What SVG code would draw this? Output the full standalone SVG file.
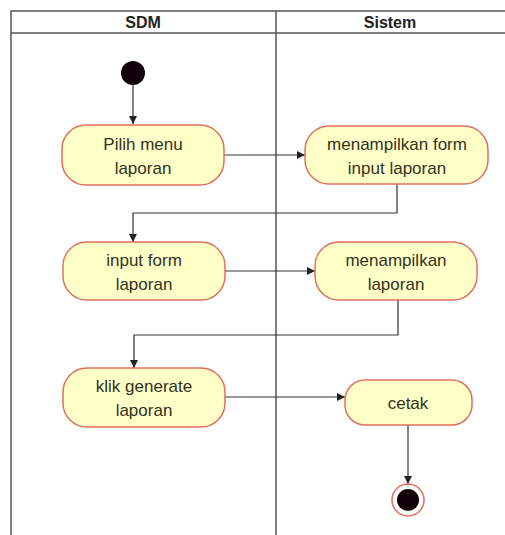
<svg xmlns="http://www.w3.org/2000/svg" width="505" height="535" viewBox="0 0 505 535">
<defs>
<style>
.lane{fill:none;stroke:#555;stroke-width:1.5}
.hdr{font-family:"Liberation Sans",Arial,sans-serif;font-size:16px;font-weight:bold;fill:#222;text-anchor:middle}
.act{fill:#ffffc8;stroke:#e07060;stroke-width:1.5}
.lbl{font-family:"Liberation Sans",Arial,sans-serif;font-size:17px;fill:#333320;text-anchor:middle}
.con{fill:none;stroke:#333;stroke-width:1.2}
</style>
<marker id="arr" viewBox="0 0 10 10" refX="10" refY="5" markerWidth="8" markerHeight="8" markerUnits="userSpaceOnUse" orient="auto">
<path d="M0,0 L10,5 L0,10 z" fill="#222"/>
</marker>
</defs>
<rect width="505" height="535" fill="#fff"/>
<g id="lanes">
<path class="lane" d="M11,535 V11 H505 M11,33 H505 M276,11 V535"/>
<text class="hdr" x="143" y="28">SDM</text>
<text class="hdr" x="390" y="28">Sistem</text>
</g>
<g id="connectors">
<path class="con" d="M133,85 V124" marker-end="url(#arr)"/>
<path class="con" d="M224,155 H305" marker-end="url(#arr)"/>
<path class="con" d="M397,184 V213 H133 V242" marker-end="url(#arr)"/>
<path class="con" d="M225,271 H315" marker-end="url(#arr)"/>
<path class="con" d="M398,300 V335 H134 V368" marker-end="url(#arr)"/>
<path class="con" d="M225,397 H345" marker-end="url(#arr)"/>
<path class="con" d="M408,425 V484" marker-end="url(#arr)"/>
</g>
<g id="start"><circle cx="133" cy="73" r="12" fill="#100008"/></g>
<g id="n1"><rect class="act" x="62" y="125" width="162" height="60" rx="24"/><text class="lbl" x="143" y="150">Pilih menu</text><text class="lbl" x="143" y="174">laporan</text></g>
<g id="n2"><rect class="act" x="305" y="126" width="183" height="58" rx="24"/><text class="lbl" x="397" y="150">menampilkan form</text><text class="lbl" x="397" y="174">input laporan</text></g>
<g id="n3"><rect class="act" x="63" y="242" width="162" height="58" rx="24"/><text class="lbl" x="144" y="266">input form</text><text class="lbl" x="144" y="290">laporan</text></g>
<g id="n4"><rect class="act" x="315" y="242" width="162" height="58" rx="24"/><text class="lbl" x="396" y="266">menampilkan</text><text class="lbl" x="396" y="290">laporan</text></g>
<g id="n5"><rect class="act" x="63" y="368" width="162" height="59" rx="24"/><text class="lbl" x="144" y="392">klik generate</text><text class="lbl" x="144" y="416">laporan</text></g>
<g id="n6"><rect class="act" x="345" y="380" width="127" height="45" rx="20"/><text class="lbl" x="408" y="409">cetak</text></g>
<g id="end"><circle cx="408" cy="500" r="16" fill="#fff" stroke="#e07060" stroke-width="1.5"/><circle cx="408" cy="500" r="11" fill="#100008"/></g>
</svg>
